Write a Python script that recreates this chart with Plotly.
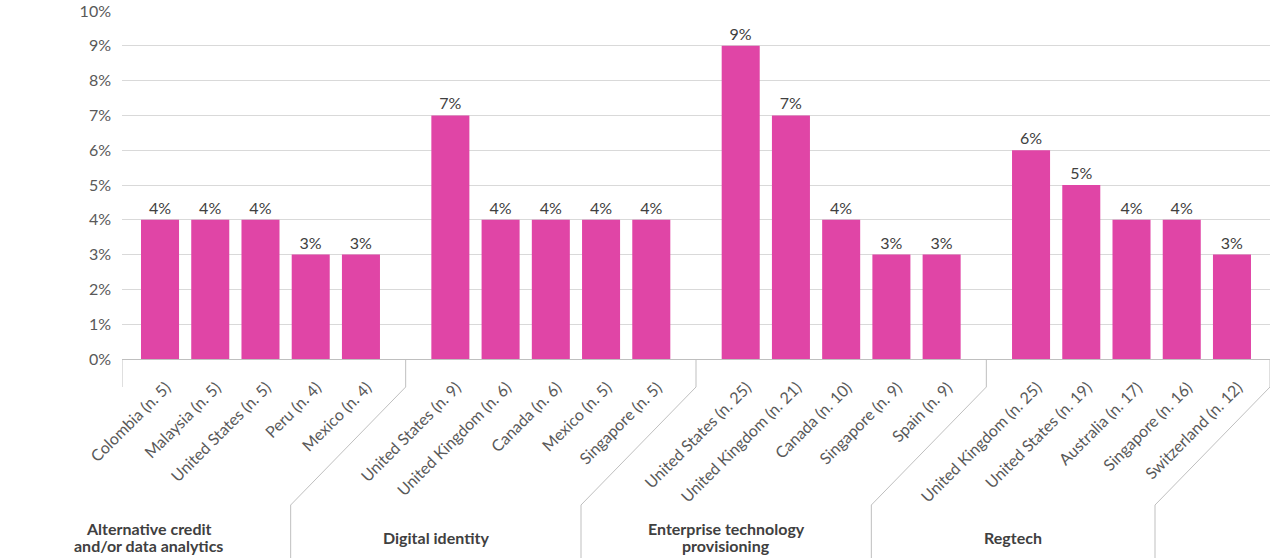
import plotly.graph_objects as go

groups = ["Alternative credit<br>and/or data analytics", "Digital identity",
          "Enterprise technology<br>provisioning", "Regtech"]
categories = [
    ["Colombia (n. 5)", "Malaysia (n. 5)", "United States (n. 5)", "Peru (n. 4)", "Mexico (n. 4)"],
    ["United States (n. 9)", "United Kingdom (n. 6)", "Canada (n. 6)", "Mexico (n. 5)", "Singapore (n. 5)"],
    ["United States (n. 25)", "United Kingdom (n. 21)", "Canada (n. 10)", "Singapore (n. 9)", "Spain (n. 9)"],
    ["United Kingdom (n. 25)", "United States (n. 19)", "Australia (n. 17)", "Singapore (n. 16)", "Switzerland (n. 12)"],
]
values = [
    [4, 4, 4, 3, 3],
    [7, 4, 4, 4, 4],
    [9, 7, 4, 3, 3],
    [6, 5, 4, 4, 3],
]
y_ticks = list(range(0, 11))

# layout constants (page body margin removed by post_script)
STRIDE = 5.78          # group stride in slot units
EDGE = 0.757           # outer padding in slot units
W, H = 1270, 558
ML, MR, MT, MB = 122, 0, 11, 199
plot_w = W - ML - MR
plot_h = H - MT - MB
BOTTOM = MT + plot_h   # page pixel of the x axis
n_groups = len(groups)
x_lo = -EDGE
x_hi = (n_groups - 1) * STRIDE + 4 + EDGE
slot_px = plot_w / (x_hi - x_lo)

xs, ys, labels = [], [], []
for g, (cats, vals) in enumerate(zip(categories, values)):
    for i, (c, v) in enumerate(zip(cats, vals)):
        xs.append(g * STRIDE + i)
        ys.append(v)
        labels.append(c)

fig = go.Figure(go.Bar(
    x=xs, y=ys, width=0.757,
    marker=dict(color="#E045A6", line=dict(width=0)),
    text=[f"{v}%" for v in ys], textposition="outside",
    textfont=dict(family="Lato", size=16, color="#404040"),
    cliponaxis=False, hoverinfo="skip",
))

def py(p):
    return (BOTTOM - p) / plot_h

boundaries = [x_lo] + [g * STRIDE + 4 + (STRIDE - 4) / 2 for g in range(n_groups - 1)] + [x_hi]
diag = 115 / slot_px
shapes = []
line_style = dict(color="#BFBFBF", width=1)
for b in boundaries:
    pts = [(b, py(359)), (b, py(387)), (b - diag, py(505)), (b - diag, py(562))]
    for (x0, y0), (x1, y1) in zip(pts[:-1], pts[1:]):
        shapes.append(dict(type="line", xref="x", yref="paper", x0=x0, y0=y0, x1=x1, y1=y1,
                           line=line_style, layer="above"))

annotations = []
for g, name in enumerate(groups):
    cx = (boundaries[g] + boundaries[g + 1]) / 2 - diag
    lines = name.split("<br>")
    ypos = [537] if len(lines) == 1 else [528, 545]
    for line, yp in zip(lines, ypos):
        annotations.append(dict(x=cx, y=py(yp), xref="x", yref="paper", text=f"<b>{line}</b>",
                                showarrow=False, xanchor="center", yanchor="middle",
                                font=dict(family="Lato", size=16, color="#404040")))

fig.update_layout(
    width=W, height=H,
    margin=dict(l=ML, r=MR, t=MT, b=MB, pad=0, autoexpand=False),
    plot_bgcolor="white", paper_bgcolor="white",
    showlegend=False,
    shapes=shapes, annotations=annotations,
    font=dict(family="Lato", color="#595959"),
    xaxis=dict(range=[x_lo, x_hi], tickmode="array", tickvals=xs, ticktext=labels,
               tickangle=-45, tickfont=dict(family="Lato", size=16, color="#595959"),
               showgrid=False, zeroline=False, showline=True, linecolor="#BFBFBF", linewidth=1,
               ticks="", automargin=False, ticklabelstandoff=12, ticklabelshift=6,
               fixedrange=True),
    yaxis=dict(range=[0, 10], tickmode="array", tickvals=y_ticks,
               ticktext=[f"{t}%" for t in y_ticks],
               tickfont=dict(family="Lato", size=16, color="#595959"),
               showgrid=True, gridcolor="#D9D9D9", gridwidth=1, zeroline=False,
               showline=False, ticks="", ticklabelstandoff=10, automargin=False,
               ticklabeloverflow="allow", fixedrange=True),
)

fig.write_html("out.html", config={"displayModeBar": False},
               post_script="document.body.style.margin='0';")
